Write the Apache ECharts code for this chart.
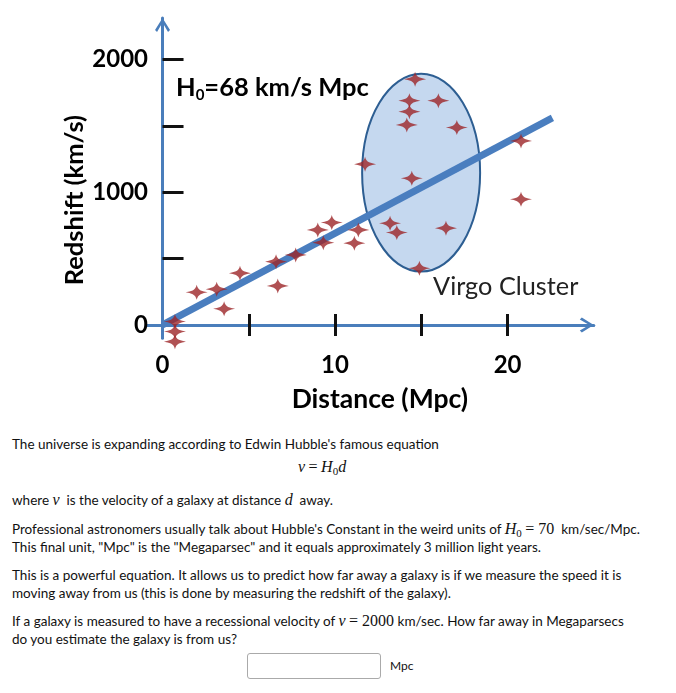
<!DOCTYPE html>
<html>
<head>
<meta charset="utf-8">
<script src="https://cdn.jsdelivr.net/npm/echarts@6/dist/echarts.min.js"></script>
<style>
  html, body { margin: 0; padding: 0; background: #fff; }
  body { width: 676px; height: 693px; position: relative; overflow: hidden; font-family: Lato, "Noto Sans", sans-serif; color: #111; }
  #chart { position: absolute; left: 0; top: 0; width: 676px; height: 425px; }
  .t { position: absolute; left: 12px; font-size: 13.5px; line-height: 18px; white-space: nowrap; }
  .m { font-family: "Liberation Serif", "DejaVu Serif", serif; font-style: italic; font-size: 16px; }
  .mn { font-family: "Liberation Serif", "DejaVu Serif", serif; font-size: 16px; }
  .sub { font-family: "Liberation Serif", "DejaVu Serif", serif; font-size: 11px; position: relative; top: 3px; }
  #answer { position: absolute; left: 247px; top: 653px; width: 132px; height: 24px; border: 1px solid #aaa; border-radius: 3px; box-sizing: content-box; }
  #unit { position: absolute; left: 390px; top: 658px; font-size: 12px; line-height: 16px; }
</style>
</head>
<body>
<div id="chart"></div>

<div class="t" style="top:435px">The universe is expanding according to Edwin Hubble's famous equation</div>
<div class="t" style="top:458px; left:298px;"><span class="m">v</span> <span class="mn">=</span> <span class="m">H</span><span class="sub">0</span><span class="m">d</span></div>
<div class="t" style="top:491px">where <span class="m">v</span>&nbsp; is the velocity of a galaxy at distance <span class="m">d</span>&nbsp; away.</div>
<div class="t" style="top:520px">Professional astronomers usually talk about Hubble's Constant in the weird units of <span class="m">H</span><span class="sub">0</span> <span class="mn">= 70</span>&nbsp; km/sec/Mpc.</div>
<div class="t" style="top:538px">This final unit, "Mpc" is the "Megaparsec" and it equals approximately 3 million light years.</div>
<div class="t" style="top:566px">This is a powerful equation. It allows us to predict how far away a galaxy is if we measure the speed it is</div>
<div class="t" style="top:584px">moving away from us (this is done by measuring the redshift of the galaxy).</div>
<div class="t" style="top:612px">If a galaxy is measured to have a recessional velocity of <span class="m">v</span> <span class="mn">= 2000</span> km/sec. How far away in Megaparsecs</div>
<div class="t" style="top:630px">do you estimate the galaxy is from us?</div>
<div id="answer"></div>
<div id="unit">Mpc</div>

<script>
// ---- data ----
const distances  = [0.72, 0.72, 0.72, 1.98, 3.14, 3.57, 4.49, 6.58, 6.68, 7.72, 9.0, 9.81, 9.32, 11.35, 11.12,
                    14.64, 14.31, 14.31, 15.99, 14.16, 17.06, 11.74, 14.45, 20.78, 20.78, 13.19, 13.58, 16.43, 14.89];
const velocities = [25, -50, -126, 246, 269, 121, 390, 477, 294, 527, 716, 771, 620, 716, 616,
                    1852, 1690, 1607, 1690, 1507, 1487, 1211, 1105, 1387, 947, 766, 696, 729, 427];
const fitDistances  = [0, 22.6];
const fitVelocities = [0, 1560];
const clusterCenter = [14.99, 1147];
const clusterRadius = [3.42, 745];
const xTicks  = [5, 10, 15, 20];
const xLabels = [0, 10, 20];
const yTicks  = [500, 1000, 1500, 2000];
const yLabels = [0, 1000, 2000];

const axisBlue = '#4a7ebb';
const starPath = 'path://M11,0 Q12,4.5 15,6 Q18,7.3 22,8 Q18,8.7 15,10 Q12,11.5 11,16 Q10,11.5 7,10 Q4,8.7 0,8 Q4,7.3 7,6 Q10,4.5 11,0 Z';
const chevron  = 'path://M7.5,0 L15,12 L13,14 L7.5,4.5 L2,14 L0,12 Z';
const tickFont = { fontFamily: 'Lato', fontWeight: 'bold', fontSize: 24, color: '#000' };
const nameFont = { fontFamily: 'Lato', fontWeight: 'bold', fontSize: 26.5, color: '#000' };
const plain = v => String(v);
const GRID_TOP = 18;

const chart = echarts.init(document.getElementById('chart'), null, { renderer: 'canvas' });
const option = {
  animation: false,
  grid: { left: 147, top: GRID_TOP, width: 446.8, height: 320.2, containLabel: false },
  xAxis: [{
    type: 'value', min: -0.9, max: 25, position: 'bottom',
    axisLine: { onZero: true, lineStyle: { color: axisBlue, width: 3 }, symbol: ['none', chevron], symbolSize: [15, 14], symbolOffset: [0, -7] },
    axisTick: { show: true, inside: false, length: 11, customValues: xTicks, lineStyle: { color: '#111', width: 3 } },
    axisLabel: Object.assign({ customValues: xLabels, margin: 15, formatter: plain }, tickFont),
    splitLine: { show: false },
    name: 'Distance (Mpc)', nameLocation: 'middle', nameGap: 48,
    nameTextStyle: Object.assign({ padding: [0, 0, 0, 19] }, nameFont)
  }, {
    type: 'value', min: -0.9, max: 25, position: 'top', offset: 0,
    axisLine: { show: false, onZero: false },
    axisTick: { show: true, inside: false, length: 11, customValues: xTicks, lineStyle: { color: '#111', width: 3 } },
    axisLabel: { show: false },
    splitLine: { show: false }
  }],
  yAxis: [{
    type: 'value', min: -100, max: 2313, position: 'left',
    axisLine: { onZero: true, lineStyle: { color: axisBlue, width: 3 }, symbol: ['none', chevron], symbolSize: [15, 14], symbolOffset: [0, -7] },
    axisTick: { show: true, inside: true, length: 21, customValues: yTicks, lineStyle: { color: '#111', width: 3 } },
    axisLabel: Object.assign({ customValues: yLabels, margin: -1, formatter: plain }, tickFont),
    splitLine: { show: false },
    name: 'Redshift (km/s)', nameLocation: 'middle', nameGap: 59, nameMoveOverlap: false,
    nameTextStyle: Object.assign({ padding: [0, 44, 0, 0] }, nameFont, { fontSize: 25.5 })
  }],
  graphic: [
    { type: 'text', left: 176, top: 75, z: 10,
      style: { text: '{a|H}{s|0}{a|=68 km/s Mpc}', rich: {
        a: { fontFamily: 'Lato', fontWeight: 'bold', fontSize: 25.5, fill: '#000' },
        s: { fontFamily: 'Lato', fontWeight: 'bold', fontSize: 15, fill: '#000', verticalAlign: 'bottom', padding: [14, 0, 0, 0] } } } },
    { type: 'text', left: 433, top: 274, z: 10,
      style: { text: 'Virgo Cluster', fontFamily: 'Lato', fontSize: 25.3, fill: '#222' } }
  ],
  series: [{
    type: 'custom', name: 'Virgo Cluster', z: 1, clip: false,
    data: [[clusterCenter[0], clusterCenter[1], clusterRadius[0], clusterRadius[1]]],
    renderItem: function (params, api) {
      const c = api.coord([api.value(0), api.value(1)]);
      const s = api.size([api.value(2), api.value(3)]);
      return { type: 'ellipse', shape: { cx: c[0], cy: c[1], rx: s[0], ry: s[1] },
               style: { fill: '#c5d8ef', stroke: '#2d5e92', lineWidth: 2 } };
    }
  }, {
    type: 'line', name: 'Hubble fit', z: 2, symbol: 'none', clip: false,
    data: fitDistances.map((d, i) => [d, fitVelocities[i]]),
    lineStyle: { color: '#4a7ebf', width: 7, cap: 'butt' }
  }, {
    type: 'scatter', name: 'Galaxies', z: 3, clip: false,
    symbol: starPath, symbolSize: [22, 15],
    itemStyle: { color: '#9c2628' },
    data: distances.map((d, i) => [d, velocities[i]])
  }]
};
chart.setOption(option);
// move the upper half of the x ticks down onto the zero line so the ticks cross the axis
const y0 = chart.convertToPixel({ yAxisIndex: 0 }, 0);
chart.setOption({ xAxis: [{}, { offset: -(y0 - GRID_TOP) }] });
</script>
</body>
</html>
